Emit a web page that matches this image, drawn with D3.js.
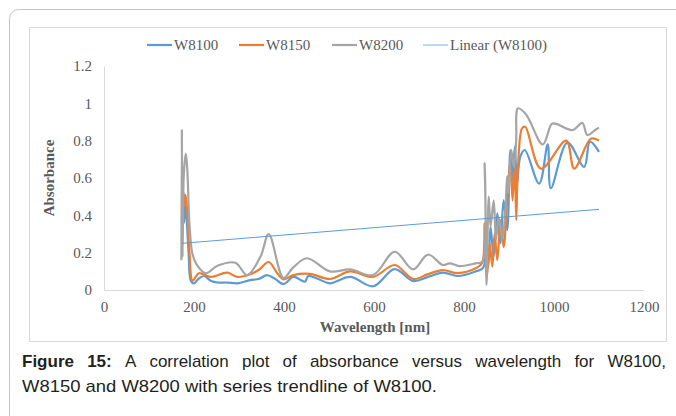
<!DOCTYPE html>
<html>
<head>
<meta charset="utf-8">
<script src="https://cdn.jsdelivr.net/npm/d3@7"></script>
<style>
  body { margin: 0; background: #fff; }
  svg { display: block; }
</style>
</head>
<body>
<div id="container"></div>
<script>
// values
const seriesNames = ["W8100", "W8150", "W8200"];
const seriesColors = ["#5b9bd5", "#ed7d31", "#a5a5a5"];

const w8100Nm = [173, 176, 178, 180, 183, 188, 193, 200, 210, 222, 237, 252, 275, 296, 325, 345, 362, 380, 399, 421, 440, 447, 454, 475, 502, 547, 598, 646, 687, 720, 753, 786, 826, 843, 848, 854, 859, 866, 874, 881, 888, 896, 903, 908, 913, 918, 925, 935, 967, 986, 993, 1030, 1067, 1080, 1100];
const w8100Abs = [0.38, 0.45, 0.36, 0.45, 0.40, 0.20, 0.05, 0.035, 0.06, 0.075, 0.05, 0.04, 0.04, 0.036, 0.053, 0.06, 0.08, 0.06, 0.032, 0.07, 0.05, 0.045, 0.075, 0.06, 0.036, 0.07, 0.02, 0.112, 0.048, 0.07, 0.093, 0.075, 0.10, 0.12, 0.27, 0.125, 0.34, 0.18, 0.41, 0.25, 0.48, 0.32, 0.75, 0.59, 0.77, 0.57, 0.714, 0.75, 0.57, 0.78, 0.545, 0.79, 0.66, 0.795, 0.74];

const w8150Nm = [174, 177, 179, 181, 184, 190, 197, 211, 237, 274, 296, 325, 345, 366, 385, 399, 421, 458, 502, 547, 598, 646, 687, 720, 753, 786, 826, 840, 846, 851, 857, 863, 868, 874, 881, 888, 896, 903, 908, 913, 916, 920, 929, 936, 971, 1027, 1045, 1082, 1100];
const w8150Abs = [0.40, 0.52, 0.45, 0.51, 0.45, 0.20, 0.05, 0.09, 0.07, 0.093, 0.07, 0.084, 0.11, 0.15, 0.09, 0.057, 0.08, 0.086, 0.059, 0.10, 0.07, 0.134, 0.059, 0.085, 0.107, 0.09, 0.116, 0.143, 0.357, 0.07, 0.25, 0.125, 0.30, 0.16, 0.375, 0.23, 0.48, 0.68, 0.48, 0.70, 0.375, 0.66, 0.866, 0.875, 0.65, 0.80, 0.65, 0.81, 0.80];

const w8200Nm = [172, 173, 174.5, 177, 180, 182, 185, 190, 196, 205, 226, 252, 292, 318, 348, 366, 399, 420, 451, 502, 547, 598, 646, 687, 720, 753, 768, 790, 826, 840, 846, 850, 855, 859, 866, 871, 877, 885, 892, 896, 899, 905, 911, 916, 920, 938, 975, 995, 1005, 1041, 1063, 1074, 1093, 1100];
const w8200Abs = [0.16, 0.857, 0.18, 0.60, 0.70, 0.73, 0.65, 0.35, 0.20, 0.14, 0.09, 0.13, 0.146, 0.08, 0.18, 0.30, 0.064, 0.12, 0.17, 0.10, 0.11, 0.08, 0.205, 0.11, 0.19, 0.134, 0.143, 0.128, 0.143, 0.15, 0.68, 0.027, 0.50, 0.34, 0.48, 0.27, 0.39, 0.27, 0.43, 0.61, 0.52, 0.75, 0.66, 0.80, 0.973, 0.94, 0.78, 0.89, 0.89, 0.857, 0.895, 0.83, 0.86, 0.87];

// Linear (W8100) trendline end points
const trendNm = [173, 1100];
const trendAbs = [0.25, 0.432];

const xTicks = [0, 200, 400, 600, 800, 1000, 1200];
const yTicks = [0, 0.2, 0.4, 0.6, 0.8, 1, 1.2];

const captionLine1 = ["Figure", "15:", "A", "correlation", "plot", "of", "absorbance", "versus", "wavelength", "for", "W8100,"];
const captionLine2 = "W8150 and W8200 with series trendline of W8100.";

const w = 676;
const h = 416;
const serif = "'Liberation Serif', 'Times New Roman', serif";

const svg = d3.select("#container")
              .append("svg")
              .attr("width", w)
              .attr("height", h);

// outer figure frame and chart frame
svg.append("rect")
   .attr("x", 9.5).attr("y", 9.5)
   .attr("width", 700).attr("height", 430)
   .attr("rx", 9)
   .attr("fill", "none")
   .attr("stroke", "#c4c4c4");
svg.append("rect")
   .attr("x", 29.5).attr("y", 27.5)
   .attr("width", 637).attr("height", 314)
   .attr("fill", "#fff")
   .attr("stroke", "#d9d9d9");

const xScale = d3.scaleLinear().domain([0, 1200]).range([104, 644]);
const yScale = d3.scaleLinear().domain([0, 1.2]).range([290, 66]);

const xAxis = d3.axisBottom(xScale).tickValues(xTicks).tickSize(0).tickPadding(11).tickFormat(d3.format("d"));
const yAxis = d3.axisLeft(yScale).tickValues(yTicks).tickSize(0).tickPadding(12).tickFormat((d) => d);

const gx = svg.append("g")
   .attr("transform", "translate(0,290)")
   .call(xAxis);
const gy = svg.append("g")
   .attr("transform", "translate(104,0)")
   .call(yAxis);

[gx, gy].forEach(function(g) {
  g.select(".domain").attr("stroke", "#d9d9d9");
  g.selectAll("text")
   .attr("font-family", serif)
   .attr("font-size", 15)
   .attr("fill", "#595959");
});

svg.append("text")
   .attr("x", 375).attr("y", 332)
   .attr("text-anchor", "middle")
   .attr("font-family", serif)
   .attr("font-weight", "bold")
   .attr("font-size", 15)
   .attr("fill", "#595959")
   .text("Wavelength [nm]");

svg.append("text")
   .attr("transform", "translate(54,178) rotate(-90)")
   .attr("text-anchor", "middle")
   .attr("font-family", serif)
   .attr("font-weight", "bold")
   .attr("font-size", 15)
   .attr("fill", "#595959")
   .text("Absorbance");

// series
const line = d3.line()
               .x((d) => xScale(d[0]))
               .y((d) => yScale(d[1]))
               .curve(d3.curveCatmullRom.alpha(0.5));

const seriesData = [
  d3.zip(w8100Nm, w8100Abs),
  d3.zip(w8150Nm, w8150Abs),
  d3.zip(w8200Nm, w8200Abs)
];

svg.selectAll("path.series")
   .data(seriesData)
   .enter()
   .append("path")
   .attr("class", "series")
   .attr("d", line)
   .attr("fill", "none")
   .attr("stroke", (d, i) => seriesColors[i])
   .attr("stroke-width", 2.2)
   .attr("stroke-linejoin", "round");

svg.append("path")
   .attr("d", d3.line().x((d) => xScale(d[0])).y((d) => yScale(d[1]))(d3.zip(trendNm, trendAbs)))
   .attr("fill", "none")
   .attr("stroke", "#5b9bd5")
   .attr("stroke-width", 1);

// legend
const legendItems = seriesNames.concat(["Linear (W8100)"]);
const legendX = [147, 239, 332, 423];
const legend = svg.selectAll("g.legend")
   .data(legendItems)
   .enter()
   .append("g")
   .attr("class", "legend")
   .attr("transform", (d, i) => "translate(" + legendX[i] + ",45)");
legend.append("line")
   .attr("x1", 0).attr("x2", 25)
   .attr("stroke", (d, i) => i < 3 ? seriesColors[i] : "#7fb2e0")
   .attr("stroke-width", (d, i) => i < 3 ? 2.2 : 1);
legend.append("text")
   .attr("x", 27).attr("y", 5)
   .attr("font-family", serif)
   .attr("font-size", 15)
   .attr("fill", "#595959")
   .text((d) => d);

// caption, first line justified
const capFont = "'Liberation Sans', Arial, sans-serif";
const capWords = svg.selectAll("text.cap1")
   .data(captionLine1)
   .enter()
   .append("text")
   .attr("class", "cap1")
   .attr("y", 367)
   .attr("font-family", capFont)
   .attr("font-size", 17)
   .attr("font-weight", (d, i) => i < 2 ? "bold" : "normal")
   .attr("fill", "#231f20")
   .text((d) => d);
const widths = capWords.nodes().map((n) => n.getComputedTextLength());
const gap = (644 - d3.sum(widths)) / (widths.length - 1);
let cx = 22;
capWords.attr("x", function(d, i) {
  const x0 = cx;
  cx += widths[i] + gap;
  return x0;
});

svg.append("text")
   .attr("x", 22).attr("y", 392)
   .attr("font-family", capFont)
   .attr("font-size", 17)
   .attr("fill", "#231f20")
   .attr("textLength", 415)
   .attr("lengthAdjust", "spacingAndGlyphs")
   .text(captionLine2);
</script>
</body>
</html>
